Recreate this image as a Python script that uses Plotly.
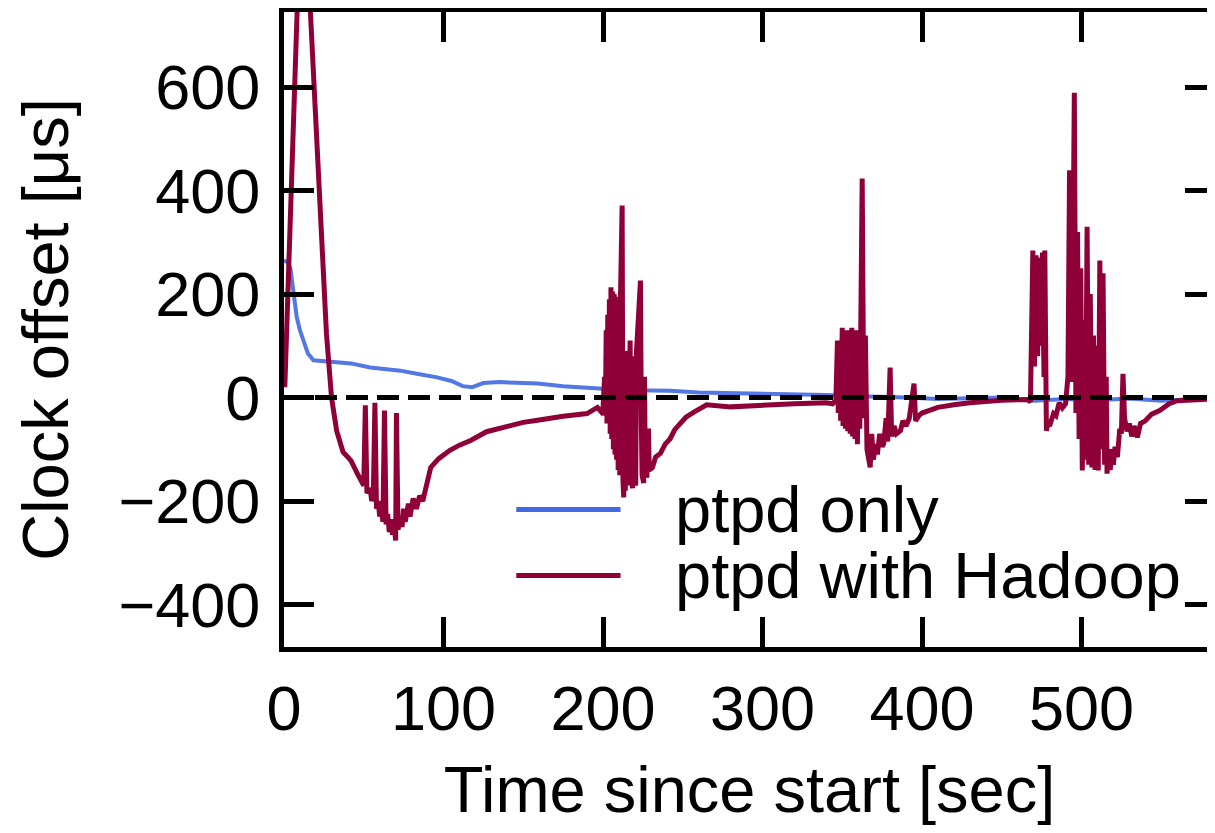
import plotly.graph_objects as go

# ---- data ----
blue_name = "ptpd only"
blue_x = [0, 2, 4, 6, 8, 10, 12, 15, 18.5, 25, 35, 42, 54, 65, 73, 85, 96, 105, 112, 118,
          125, 135, 150, 159, 175, 190, 200, 220, 242, 260, 280, 300, 320, 340, 355, 370,
          390, 410, 430, 450, 470, 490, 510, 530, 550, 570, 590]
blue_y = [265, 262, 250, 200, 155, 130, 110, 85, 72, 70, 67, 66, 58, 55, 52, 45, 39, 32, 22, 20,
          28, 30, 28, 27, 22, 18, 17, 14, 13, 10, 9, 8, 7, 5, 3, 2,
          0, -3, -2, 0, -6, -3, -5, -2, -6, -3, 0]

red_name = "ptpd with Hadoop"
red_x = [0.5, 12, 16.6, 20.4, 23.5, 26.6, 29.8, 33, 37, 42,
         46, 48, 50, 51, 52, 54, 55, 56, 57, 58, 59, 60, 61, 62, 63, 64, 65, 66, 67, 68, 69, 70,
         70.5, 71.5, 73, 74, 75, 76, 78, 79, 81, 83, 85, 87, 89, 92, 97,
         104, 110, 117, 127, 136, 150, 159, 175, 190,
         196.5, 199, 200, 201, 201.5, 202, 202.5, 203, 203.5, 204, 204.5, 205, 205.5, 206, 206.5,
         207, 207.5, 208, 208.5, 209, 209.5, 210, 210.5, 211, 212, 212.5, 213, 213.5, 214, 215,
         215.5, 216, 217, 217.5, 218.5, 219, 219.5, 220.5, 221, 222, 223.5, 224, 224.5, 225.5,
         226, 226.5, 227.5, 228.5, 229, 231, 233, 236, 239, 242, 245, 248.5, 252, 257, 265,
         280, 300, 320,
         340, 344, 346, 347, 347.5, 348.5, 349, 350, 350.5, 351.5, 352, 353, 353.5, 354.5, 355,
         356, 356.5, 357.5, 358, 359, 359.5, 360.5, 361, 362, 362.5, 363.5, 364.5, 365.5, 367.5,
         368.5, 369.5, 371, 372, 373.5, 375, 376, 377.5, 378.5, 380, 381, 382.5, 384, 386.5, 388,
         390, 392, 395, 396, 398, 400, 405, 410, 420, 430, 450,
         466, 468, 469.5, 470.5, 471.5, 472.5, 473.5, 474.5, 475.5, 476.5, 477, 478, 479, 480,
         482.5, 484, 486, 488, 490, 491.5, 492.5, 493.5, 494.5, 495.5, 496.5, 497.5, 498.5, 499.5,
         500.5, 501.5, 502.5, 503.5, 504.5, 505.5, 506.5, 507.5, 508.5, 509.5, 510.5, 511.5,
         512.5, 513.5, 514.5, 515.5, 516, 517, 518, 519, 520, 521, 522.5, 524, 525, 526, 527,
         528.5, 530, 531.5, 533, 535, 537, 540, 544, 549, 555, 560, 575, 590]
red_y = [20, 1100, 742, 510, 317, 124, 0, -64, -105, -122,
         -147, -160, -170, -15, -185, -175, -200, -190, -10, -215, -200, -230, -210, -240, -25, -245, -225, -260, -235, -265, -245, -276,
         -30, -255, -230, -250, -215, -240, -205, -230, -195, -215, -190, -200, -170, -135, -118,
         -102, -92, -83, -66, -58, -48, -44, -36, -31,
         -19, -28, -22, 40, -35, 130, -50, 160, -45, 190, -70, 213, -80, 205, -100,
         200, -110, 195, -120, 185, -140, 170, -150, 200, 371, -160, -193, 60, -180, 90,
         -170, -120, 110, -150, -175, 80, -160, -170, 90, 140, 226, -40, -150, -165,
         40, -130, -155, -60, -140, -135, -115, -108, -90, -80, -62, -50, -38, -28, -14,
         -18, -14, -12,
         -10, -12, -5, 110, -30, 90, -45, 135, -55, 120, -60, 130, -65, 125, -70,
         135, -75, 130, -80, 120, -90, 130, -60, 300, 423, -40, 120, -100, -135,
         -70, -120, -90, -110, -70, -95, -89, -40, -85, 58, -75, -55, -70, -64, -45,
         -55, -40, 27, -45, -35, -30, -25, -19, -14, -10, -5,
         -4, -8, 284, 60, 275, 80, 270, 100, 280, 40, 284, -64, -50, -55,
         -31, -35, -10, -20, -12, 40, 439, 30, 200, 589, -30, 320, -80, 250,
         -141, 150, -120, 330, -130, 200, -135, 120, -140, 100, -141, 265,
         -100, 240, -130, 40, -147, -110, -140, -100, -130, -95, -115, -60, -70, 46, -40,
         -65, -50, -75, -55, -77, -50, -45, -32, -25, -12, -6, -3, -2]

x_ticks = [0, 100, 200, 300, 400, 500]
y_ticks = [-400, -200, 0, 200, 400, 600]
x_range = [0, 583.7]
y_range = [-482, 745]

x_title = "Time since start [sec]"
y_title = "Clock offset [μs]"

BLUE = "#4169E1"
RED = "#8F0038"
FONT = "Liberation Sans, Arial, Helvetica, sans-serif"
FS_TICK = 63
FS_TEXT = 65

fig = go.Figure()
fig.add_trace(go.Scatter(x=blue_x, y=blue_y, mode="lines", name=blue_name,
                         line=dict(color=BLUE, width=4), opacity=0.9,
                         showlegend=False, yaxis="y"))
fig.add_trace(go.Scatter(x=red_x, y=red_y, mode="lines", name=red_name,
                         line=dict(color=RED, width=5),
                         showlegend=False, yaxis="y2"))

# zero reference line
fig.add_shape(type="line", xref="x domain", x0=0, x1=1, yref="y", y0=0, y1=0,
              line=dict(color="black", width=5, dash="22px,9px"), layer="above")

# manual legend (long line samples, like the gnuplot key)
legend_items = [(blue_name, BLUE, 0.2165), (red_name, RED, 0.1126)]
for name, col, yp in legend_items:
    fig.add_shape(type="line", xref="paper", yref="paper", x0=0.2495, x1=0.3615, y0=yp, y1=yp,
                  line=dict(color=col, width=5))
    fig.add_annotation(xref="paper", yref="paper", x=0.418, y=yp, text=name, showarrow=False,
                       xanchor="left", yanchor="middle",
                       font=dict(family=FONT, size=FS_TEXT, color="black"))

axis_common = dict(ticks="inside", ticklen=30, tickwidth=5, tickcolor="black",
                   showgrid=False, zeroline=False,
                   tickfont=dict(family=FONT, size=FS_TICK, color="black"))

# the page body adds an 8 px offset, so the figure is 8 px smaller than the window
fig.update_layout(
    width=1207, height=825,
    margin=dict(l=276, r=0, t=4, b=186, autoexpand=False),
    paper_bgcolor="white", plot_bgcolor="white",
    font=dict(family=FONT, size=FS_TEXT, color="black"),
    xaxis=dict(range=x_range, tickvals=x_ticks, showline=True, linewidth=5, linecolor="black",
               mirror="ticks", ticklabelstandoff=2,
               title=dict(text=x_title, font=dict(family=FONT, size=FS_TEXT), standoff=26),
               **axis_common),
    yaxis=dict(range=y_range, tickvals=y_ticks, showline=True, linewidth=5, linecolor="black",
               mirror=False, ticklabelstandoff=6,
               title=dict(text=y_title, font=dict(family=FONT, size=FS_TEXT), standoff=30),
               **axis_common),
    yaxis2=dict(range=y_range, tickvals=y_ticks, overlaying="y", side="right",
                showline=False, showticklabels=False, **axis_common),
)

fig.write_html("out.html")
